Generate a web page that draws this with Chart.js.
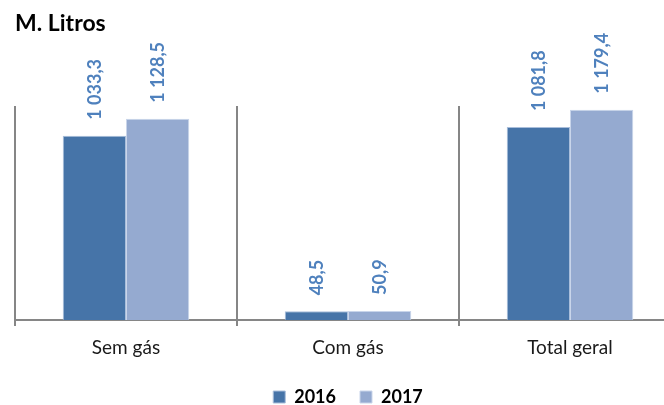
<!DOCTYPE html>
<html>
<head>
<meta charset="utf-8">
<script src="https://cdn.jsdelivr.net/npm/chart.js@4"></script>
<style>
  body { margin: 0; background: #fff; }
  #wrap { width: 664px; height: 405px; overflow: hidden; position: relative; }
  #volume { position: absolute; left: 0; top: 0; }
</style>
</head>
<body>
<div id="wrap"><canvas id="volume" width="700" height="416"></canvas></div>
<script>
// Volume (M. Litros)
const categories = ['Sem gás', 'Com gás', 'Total geral'];
const seriesLabels = ['2016', '2017'];
const values2016 = [1033.3, 48.5, 1081.8];
const values2017 = [1128.5, 50.9, 1179.4];

const fmt = v => {
    const parts = v.toFixed(1).split('.');
    return parts[0].replace(/\B(?=(\d{3})+(?!\d))/g, ' ') + ',' + parts[1];
};

// rotated value labels above the bars
const barLabels = {
    id: 'barLabels',
    afterDatasetsDraw(chart) {
        const ctx = chart.ctx;
        ctx.save();
        ctx.font = 'bold 18px Lato';
        ctx.fillStyle = '#4F81BD';
        ctx.textAlign = 'left';
        ctx.textBaseline = 'middle';
        chart.data.datasets.forEach((ds, i) => {
            chart.getDatasetMeta(i).data.forEach((bar, j) => {
                ctx.save();
                ctx.translate(bar.x + 1, bar.y - 16);
                ctx.rotate(-Math.PI / 2);
                ctx.fillText(fmt(ds.data[j]), 0, 0);
                ctx.restore();
            });
        });
        ctx.restore();
    }
};

Chart.defaults.font.family = 'Lato';
Chart.defaults.color = '#1a1a1a';

new Chart('volume', {
    type: 'bar',
    data: {
        labels: categories,
        datasets: [{
            label: seriesLabels[0],
            data: values2016,
            backgroundColor: '#4674A8',
            borderColor: '#A9BEDB',
            borderWidth: 1
        }, {
            label: seriesLabels[1],
            data: values2017,
            backgroundColor: '#95AAD0',
            borderColor: '#C9D5EA',
            borderWidth: 1
        }]
    },
    options: {
        responsive: false,
        animation: false,
        categoryPercentage: 0.57,
        barPercentage: 1,
        layout: { padding: { left: 15, right: 19, top: 0, bottom: 0 } },
        plugins: {
            title: {
                display: true,
                text: 'M. Litros',
                align: 'start',
                color: '#000',
                font: { size: 23, weight: 'bold' },
                padding: { top: 10, bottom: 68.4 }
            },
            legend: {
                position: 'bottom',
                labels: {
                    boxWidth: 12,
                    boxHeight: 12,
                    padding: 24,
                    color: '#000',
                    font: { size: 18, weight: 'bold' }
                }
            },
            tooltip: { enabled: false }
        },
        scales: {
            x: {
                afterFit: (scale) => { scale.height = 44; },
                grid: {
                    display: true,
                    offset: true,
                    color: '#868686',
                    lineWidth: 2,
                    tickLength: 6
                },
                border: { display: true, color: '#868686', width: 2 },
                ticks: { padding: 10, font: { size: 19 } }
            },
            y: {
                display: false,
                min: 0,
                max: 1200
            }
        }
    },
    plugins: [barLabels]
});
</script>
</body>
</html>
